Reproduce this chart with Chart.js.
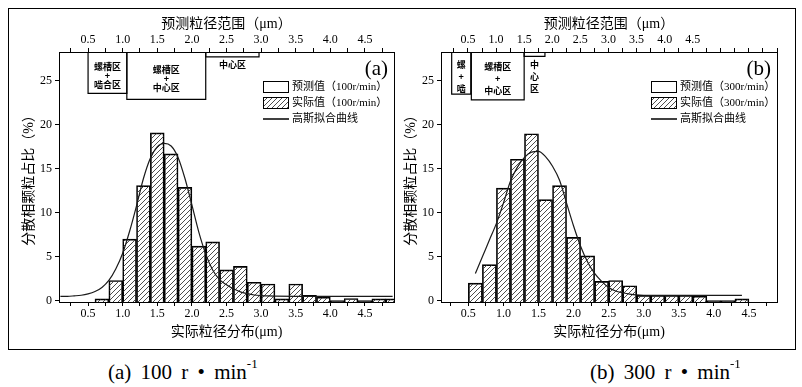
<!DOCTYPE html>
<html>
<head>
<meta charset="utf-8">
<script src="https://cdn.jsdelivr.net/npm/chart.js@4"></script>
<style>
  body { margin: 0; background: #fff; width: 802px; height: 387px; position: relative; overflow: hidden; }
  #frame { position: absolute; left: 8px; top: 8px; width: 788px; height: 342px; border: 1px solid #000; box-sizing: border-box; }
  canvas { position: absolute; top: 0; }
  #ca { left: 0; }
  #cb { left: 382px; }
  .cap { position: absolute; top: 359px; font: 21px "Liberation Serif", "Noto Sans CJK SC", serif; color: #000; white-space: nowrap; word-spacing: 4px; }
  .cap sup { font-size: 13px; position: relative; top: -3px; }
</style>
</head>
<body>
<div id="frame"></div>
<canvas id="ca" width="400" height="350"></canvas>
<canvas id="cb" width="418" height="350"></canvas>
<div class="cap" style="left:108px">(a) 100 r • min<sup>-1</sup></div>
<div class="cap" style="left:590px">(b) 300 r • min<sup>-1</sup></div>
<script>
// histogram bins (bin centres, width 0.2 µm) and measured share (%)
const binsA = [0.7, 0.9, 1.1, 1.3, 1.5, 1.7, 1.9, 2.1, 2.3, 2.5, 2.7, 2.9, 3.1, 3.3, 3.5, 3.7, 3.9, 4.1, 4.3, 4.5, 4.7, 4.9];
const valsA = [0.2, 2.3, 7.0, 13.1, 19.1, 16.7, 12.9, 6.2, 6.7, 3.5, 3.9, 2.1, 1.9, 0.2, 1.9, 0.6, 0.4, 0, 0.25, 0, 0.2, 0.2];

const binsB = [0.6, 0.8, 1.0, 1.2, 1.4, 1.6, 1.8, 2.0, 2.2, 2.4, 2.6, 2.8, 3.0, 3.2, 3.4, 3.6, 3.8, 4.0, 4.2, 4.4];
const valsB = [2.0, 4.1, 12.8, 16.1, 19.0, 11.5, 13.1, 7.2, 5.1, 2.2, 2.3, 1.7, 0.6, 0.6, 0.6, 0.6, 0.5, 0, 0, 0.2];

// gaussian fit curves
const fitXA = [0.1, 0.2, 0.3, 0.4, 0.5, 0.6, 0.7, 0.8, 0.9, 1.0, 1.1, 1.2, 1.3, 1.4, 1.5, 1.6, 1.7, 1.8, 1.9, 2.0,
               2.1, 2.2, 2.3, 2.4, 2.5, 2.6, 2.7, 2.8, 2.9, 3.0, 3.1, 3.2, 3.5, 4.0, 4.5, 4.9];
const fitYA = [0.5, 0.5, 0.55, 0.62, 0.78, 1.05, 1.5, 2.3, 3.6, 5.4, 7.9, 10.8, 13.9, 16.2, 17.5, 17.9, 17.6, 16.3, 13.9, 10.9,
               7.8, 5.3, 3.5, 2.4, 1.8, 1.35, 1.0, 0.8, 0.65, 0.58, 0.54, 0.52, 0.5, 0.5, 0.5, 0.5];

const fitXB = [0.6, 0.7, 0.8, 0.9, 1.0, 1.1, 1.2, 1.3, 1.4, 1.5, 1.6, 1.7, 1.8, 1.9, 2.0, 2.1, 2.2, 2.3, 2.4, 2.5,
               2.6, 2.7, 2.8, 2.9, 3.0, 3.2, 3.6, 4.0, 4.4];
const fitYB = [3.1, 5.0, 6.9, 8.8, 11.1, 13.6, 15.2, 16.3, 16.9, 17.0, 16.4, 15.3, 13.7, 11.1, 8.5, 6.2, 4.4, 3.1, 2.2, 1.5,
               1.1, 0.9, 0.75, 0.66, 0.62, 0.6, 0.6, 0.6, 0.6];

// predicted size ranges (top axis, µm) and how far down each box reaches (%)
const predLoA = [0.5, 1.06, 2.2];
const predHiA = [1.06, 2.2, 2.97];
const predBottomA = [23.6, 22.9, 27.75];
const predTextA = [['螺槽区', '+', '啮合区'], ['螺槽区', '+', '中心区'], ['中心区']];

const predLoB = [0.21, 0.56, 1.5];
const predHiB = [0.55, 1.5, 1.87];
const predBottomB = [23.5, 22.85, 27.8];
const predTextB = [['螺', '+', '啮'], ['螺槽区', '+', '中心区'], ['中', '心', '区']];

const yTicks = [0, 5, 10, 15, 20, 25];

const SERIF = '"Liberation Serif", "Noto Sans CJK SC", serif';
const CJK = '"Noto Sans CJK SC", sans-serif';
const Y_MIN = -0.15, Y_MAX = 28.3;

function hatch() {
  const c = document.createElement('canvas');
  c.width = c.height = 5;
  const g = c.getContext('2d');
  g.strokeStyle = '#3a3a3a';
  g.lineWidth = 0.9;
  g.beginPath();
  g.moveTo(0, 5); g.lineTo(5, 0);
  g.moveTo(-1, 1); g.lineTo(1, -1);
  g.moveTo(4, 6); g.lineTo(6, 4);
  g.stroke();
  return g.createPattern(c, 'repeat');
}
const hatchFill = hatch();

const panelPlugin = {
  id: 'panel',
  afterDraw(chart, args, o) {
    const { ctx, chartArea: a } = chart;
    const xt = chart.scales.x2, y = chart.scales.y;
    ctx.save();
    ctx.fillStyle = '#000';
    ctx.textAlign = 'center';
    ctx.textBaseline = 'middle';
    // labels of the predicted-range boxes
    ctx.font = 'bold 9px ' + CJK;
    o.predLo.forEach((lo, i) => {
      const cx = (xt.getPixelForValue(lo) + xt.getPixelForValue(o.predHi[i])) / 2;
      const bot = y.getPixelForValue(o.predBottom[i]);
      const lines = o.predText[i];
      let y0;
      if (bot - a.top < 20) y0 = bot + 8;
      else y0 = (a.top + bot) / 2 + 3 - (lines.length - 1) * o.gap / 2;
      lines.forEach((t, k) => ctx.fillText(t, cx, y0 + k * o.gap));
    });
    // panel tag
    ctx.font = '21px ' + SERIF;
    ctx.textAlign = 'right';
    ctx.fillText(o.tag, a.right - 6, a.top + 17);
    // legend
    const bx = a.right - o.legendOffset, bw = 25;
    const rows = [a.top + 35, a.top + 51, a.top + 67];
    ctx.lineWidth = 1;
    ctx.strokeStyle = '#000';
    ctx.strokeRect(bx + 0.5, rows[0] - 5.5, bw, 11);
    ctx.fillStyle = hatchFill;
    ctx.fillRect(bx + 0.5, rows[1] - 5.5, bw, 11);
    ctx.strokeRect(bx + 0.5, rows[1] - 5.5, bw, 11);
    ctx.lineWidth = 1.5;
    ctx.beginPath();
    ctx.moveTo(bx, rows[2]); ctx.lineTo(bx + bw + 1, rows[2]);
    ctx.stroke();
    ctx.fillStyle = '#000';
    ctx.textAlign = 'left';
    ctx.font = '11px ' + SERIF;
    o.legend.forEach((t, k) => ctx.fillText(t, bx + bw + 4, rows[k]));
    ctx.restore();
  }
};

function axisX(pos, min, max, title, titlePad, height) {
  return {
    type: 'linear', position: pos, min: min, max: max, offset: false,
    ticks: {
      stepSize: 0.25, includeBounds: false, autoSkip: false, maxRotation: 0, padding: 1,
      color: '#000', font: { family: SERIF, size: 12 },
      callback: v => (Math.abs(v * 2 - Math.round(v * 2)) < 1e-6 && v >= 0.5 && v <= 4.5 ? v.toFixed(1) : '')
    },
    grid: { drawOnChartArea: false, tickLength: 4, color: '#000', offset: false },
    border: { color: '#000', width: 1 },
    title: { display: true, text: title, color: '#000', font: { family: SERIF, size: 14 }, padding: titlePad },
    afterFit: s => { s.height = height; }
  };
}

function build(id, p) {
  const boxes = p.predLo.map((lo, i) => ({
    type: 'line', xAxisID: 'x2', yAxisID: 'y', order: 1,
    data: [{ x: lo, y: Y_MAX }, { x: lo, y: p.predBottom[i] }, { x: p.predHi[i], y: p.predBottom[i] }, { x: p.predHi[i], y: Y_MAX }],
    borderColor: '#000', borderWidth: 1.2, pointRadius: 0, tension: 0, fill: false
  }));
  const chart = new Chart(document.getElementById(id), {
    type: 'bar',
    data: {
      datasets: [
        {
          type: 'line', order: 0, xAxisID: 'x', yAxisID: 'y',
          data: p.fitX.map((x, i) => ({ x: x, y: p.fitY[i] })),
          borderColor: '#1a1a1a', borderWidth: 1.2, pointRadius: 0, tension: 0.4, cubicInterpolationMode: 'monotone', fill: false
        },
        ...boxes,
        {
          type: 'bar', order: 2, xAxisID: 'x', yAxisID: 'y', grouped: false,
          data: p.bins.map((x, i) => ({ x: x, y: p.vals[i] })),
          backgroundColor: hatchFill, borderColor: '#000', borderWidth: 1,
          barPercentage: 1, categoryPercentage: 1, base: Y_MIN
        }
      ]
    },
    options: {
      responsive: false, animation: false, events: [],
      layout: { padding: { left: 10, right: p.padRight, top: 8, bottom: 8 } },
      plugins: {
        legend: { display: false }, tooltip: { enabled: false },
        panel: { predLo: p.predLo, predHi: p.predHi, predBottom: p.predBottom, predText: p.predText,
                 gap: p.gap, tag: p.tag, legend: p.legend, legendOffset: p.legendOffset }
      },
      scales: {
        x: axisX('bottom', p.xMin, p.xMax, '实际粒径分布(μm)', { top: 0, bottom: 1 }, 40),
        x2: axisX('top', p.topMin, p.topMax, '预测粒径范围（μm）', { top: 8, bottom: 0 }, 44),
        y: {
          min: Y_MIN, max: Y_MAX,
          ticks: { stepSize: 5, includeBounds: false, padding: 3, color: '#000', font: { family: SERIF, size: 12 },
                   callback: v => (yTicks.includes(v) ? String(v) : '') },
          grid: { drawOnChartArea: false, tickLength: 4, color: '#000' },
          border: { color: '#000', width: 1 },
          title: { display: true, text: '分散相颗粒占比（%）', color: '#000', font: { family: SERIF, size: 14 }, padding: { top: 11, bottom: 0 } },
          afterFit: s => { s.width = 49; }
        },
        y2: {
          position: 'right', min: Y_MIN, max: Y_MAX,
          ticks: { display: false },
          grid: { drawOnChartArea: false, drawTicks: false },
          border: { color: '#000', width: 1 },
          afterFit: s => { s.width = 0; }
        }
      }
    },
    plugins: [panelPlugin]
  });
  // bar width = one bin, measured on the x scale
  const xs = chart.scales.x;
  const bars = chart.data.datasets[chart.data.datasets.length - 1];
  bars.barThickness = xs.getPixelForValue(p.bins[1]) - xs.getPixelForValue(p.bins[0]);
  chart.update();
  return chart;
}

build('ca', {
  bins: binsA, vals: valsA, fitX: fitXA, fitY: fitYA,
  predLo: predLoA, predHi: predHiA, predBottom: predBottomA, predText: predTextA, gap: 9,
  xMin: 0.08, xMax: 4.92, topMin: 0.08, topMax: 4.92, padRight: 6,
  tag: '(a)', legendOffset: 131,
  legend: ['预测值（100r/min）', '实际值（100r/min）', '高斯拟合曲线']
});

build('cb', {
  bins: binsB, vals: valsB, fitX: fitXB, fitY: fitYB,
  predLo: predLoB, predHi: predHiB, predBottom: predBottomB, predText: predTextB, gap: 12,
  xMin: 0.11, xMax: 4.9, topMin: 0.02, topMax: 6.0, padRight: 23,
  tag: '(b)', legendOffset: 126,
  legend: ['预测值（300r/min）', '实际值（300r/min）', '高斯拟合曲线']
});
</script>
</body>
</html>
